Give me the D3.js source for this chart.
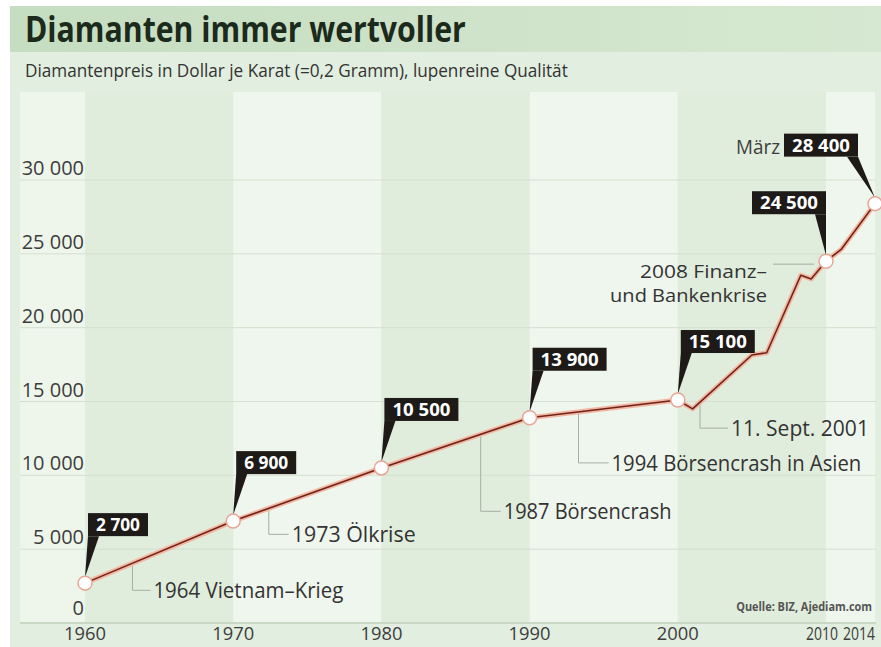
<!DOCTYPE html>
<html>
<head>
<meta charset="utf-8">
<script src="https://cdn.jsdelivr.net/npm/d3@7"></script>
<style>
  body { margin: 0; background: #fff; }
  svg { display: block; font-family: "Open Sans", "DejaVu Sans", sans-serif; }
</style>
</head>
<body>
<div id="chart"></div>
<script>
// price per carat
var years  = [1960, 1970, 1980, 1990, 2000, 2001, 2005, 2006, 2008.3, 2009, 2010, 2011.3, 2014.2];
var prices = [2700, 6900, 10500, 13900, 15100, 14500, 18150, 18300, 23550, 23300, 24500, 25300, 28400];

// labelled points
var calloutYears  = [1960, 1970, 1980, 1990, 2000, 2010, 2014.2];
var calloutValues = [2700, 6900, 10500, 13900, 15100, 24500, 28400];

var yTicks = [0, 5000, 10000, 15000, 20000, 25000, 30000];
var xTicks = [1960, 1970, 1980, 1990, 2000, 2010, 2014];
var decades = [1960, 1970, 1980, 1990, 2000, 2010];

var notes = [
  { text: '1964 Vietnam\u2013Krieg', year: 1963.2, drop: 27, gap: 18, w: 190 },
  { text: '1973 Ölkrise', year: 1972.4, drop: 26, gap: 20, w: 124 },
  { text: '1987 Börsencrash', year: 1986.7, drop: 77, gap: 20, w: 168 },
  { text: '1994 Börsencrash in Asien', year: 1993.3, drop: 51, gap: 30, w: 250 },
  { text: '11. Sept. 2001', year: 2001.5, drop: 26, gap: 28, w: 138 }
];

var width = 881, height = 647;
var fmt = d3.formatLocale({ decimal: ',', thousands: ' ', grouping: [3], currency: ['', '$'] }).format(',d');

var x = d3.scaleLinear().domain([1960, 2010, 2014.2]).range([85, 826, 875]);
var y = d3.scaleLinear().domain([0, 30000]).range([623, 180]);

var svg = d3.select('#chart').append('svg')
  .attr('width', width)
  .attr('height', height);

// squeeze a text horizontally to width w (the print uses a condensed face)
function squeeze(t, w) {
  var n = t.node().getComputedTextLength();
  var ax = +t.attr('x'), ay = +t.attr('y');
  t.attr('x', 0).attr('y', 0)
    .attr('transform', 'translate(' + ax + ',' + ay + ') scale(' + (w / n) + ',1)');
  return t;
}

// title band + subtitle band
var grad = svg.append('defs').append('linearGradient').attr('id', 'tb');
grad.append('stop').attr('offset', '0%').attr('stop-color', '#c5ddc0');
grad.append('stop').attr('offset', '100%').attr('stop-color', '#d6e8d1');
svg.append('rect').attr('x', 10).attr('y', 6).attr('width', 871).attr('height', 46).attr('fill', 'url(#tb)');
svg.append('rect').attr('x', 10).attr('y', 52).attr('width', 871).attr('height', 595).attr('fill', '#e2eedf');

// decade stripes
svg.append('rect').attr('x', 20).attr('y', 92).attr('width', x(1960) - 20).attr('height', y(0) - 92).attr('fill', '#eef6ec');
svg.selectAll('.stripe')
  .data(decades)
  .enter().append('rect')
  .attr('class', 'stripe')
  .attr('x', d => x(d))
  .attr('y', 92)
  .attr('width', d => (d === 2010 ? x(2014.2) : x(d + 10)) - x(d))
  .attr('height', y(0) - 92)
  .attr('fill', (d, i) => i % 2 === 0 ? '#e0ecdc' : '#eff6ed');

// grid
svg.selectAll('.grid')
  .data(yTicks)
  .enter().append('line')
  .attr('x1', 20).attr('x2', 876)
  .attr('y1', d => y(d)).attr('y2', d => y(d))
  .attr('stroke', d => d === 0 ? '#c9d8c5' : '#d3e0cf')
  .attr('stroke-width', d => d === 0 ? 2 : 1);

svg.selectAll('.ylab')
  .data(yTicks)
  .enter().append('text')
  .attr('x', 84)
  .attr('y', d => y(d) - (d === 0 ? 8 : 5))
  .attr('text-anchor', 'end')
  .attr('font-size', 20)
  .attr('fill', '#3d3d3d')
  .text(d => fmt(d));

// last two year labels sit closer together, as in the print
var xlabX = { 2010: 822, 2014: 859 };
svg.selectAll('.xlab')
  .data(xTicks)
  .enter().append('text')
  .attr('x', d => xlabX[d] || x(d))
  .attr('y', 640)
  .attr('text-anchor', 'middle')
  .attr('font-size', 18)
  .attr('fill', '#3d3d3d')
  .text(d => d)
  .each(function (d) { squeeze(d3.select(this), d >= 2010 ? 32 : 42); });

// titles
squeeze(svg.append('text')
  .attr('x', 25).attr('y', 42)
  .attr('font-size', 35).attr('font-weight', 700)
  .attr('fill', '#1c2a1c')
  .text('Diamanten immer wertvoller'), 441);

squeeze(svg.append('text')
  .attr('x', 25).attr('y', 77)
  .attr('font-size', 19)
  .attr('fill', '#333')
  .text('Diamantenpreis in Dollar je Karat (=0,2 Gramm), lupenreine Qualität'), 543);

squeeze(svg.append('text')
  .attr('x', 872).attr('y', 611)
  .attr('text-anchor', 'end')
  .attr('font-size', 12).attr('font-weight', 700)
  .attr('fill', '#555')
  .text('Quelle: BIZ, Ajediam.com'), 136);

// helper: y pixel of the line at a year
function lineY(yr) {
  var i = d3.bisectRight(years, yr);
  var t = (yr - years[i - 1]) / (years[i] - years[i - 1]);
  return y(prices[i - 1] + t * (prices[i] - prices[i - 1]));
}

// annotations with leader lines
notes.forEach(function (n) {
  var lx = x(n.year), ly = lineY(n.year), by = ly + n.drop;
  svg.append('path')
    .attr('d', 'M' + lx + ',' + ly + 'V' + by + 'H' + (lx + n.gap))
    .attr('fill', 'none').attr('stroke', '#a5aea3').attr('stroke-width', 1);
  squeeze(svg.append('text')
    .attr('x', lx + n.gap + 3).attr('y', by + 8)
    .attr('font-size', 22).attr('fill', '#333')
    .text(n.text), n.w);
});

// 2008 crisis note
svg.append('line')
  .attr('x1', 773).attr('x2', x(2009) + 3)
  .attr('y1', y(24300)).attr('y2', y(24300))
  .attr('stroke', '#a5aea3').attr('stroke-width', 1);
squeeze(svg.append('text')
  .attr('x', 767).attr('y', 278)
  .attr('text-anchor', 'end')
  .attr('font-size', 18).attr('fill', '#333')
  .text('2008 Finanz\u2013'), 127);
squeeze(svg.append('text')
  .attr('x', 767).attr('y', 302)
  .attr('text-anchor', 'end')
  .attr('font-size', 18).attr('fill', '#333')
  .text('und Bankenkrise'), 157);

// line
var line = d3.line().x((d, i) => x(years[i])).y(d => y(d));
svg.append('path')
  .attr('d', line(prices))
  .attr('fill', 'none').attr('stroke', '#f3b6a2').attr('stroke-width', 5)
  .attr('stroke-linejoin', 'round');
svg.append('path')
  .attr('d', line(prices))
  .attr('fill', 'none').attr('stroke', '#6e2418').attr('stroke-width', 1.6)
  .attr('stroke-linejoin', 'round');

// callouts
var callouts = calloutYears.map((d, i) => ({ year: d, value: calloutValues[i], right: d >= 2010 }));

var cg = svg.selectAll('.callout')
  .data(callouts)
  .enter().append('g')
  .attr('class', 'callout');

cg.each(function (d) {
  var g = d3.select(this);
  var px = x(d.year), py = y(d.value);
  var tw = d.value >= 10000 ? 58 : 44;
  var bw = tw + 16, bh = 23;
  var bx = d.right ? (d.year > 2012 ? px - 17 - bw : px - bw) : px + 3;
  var by = py - 47 - bh;
  var tipx = d.right ? bx + bw : bx;
  var wedge = d.right
    ? [[tipx - 11, by + bh], [tipx, by + bh], [px, py - 6]]
    : [[tipx, by + bh], [tipx + 11, by + bh], [px, py - 6]];
  g.append('path')
    .attr('d', d3.line()(wedge) + 'Z')
    .attr('fill', '#1e1a17');
  g.append('rect')
    .attr('x', bx).attr('y', by)
    .attr('width', bw).attr('height', bh)
    .attr('fill', '#1e1a17');
  squeeze(g.append('text')
    .attr('x', bx + bw / 2).attr('y', by + 18)
    .attr('font-size', 18).attr('font-weight', 700)
    .attr('fill', '#fff')
    .attr('text-anchor', 'middle')
    .text(fmt(d.value)), tw);
});

squeeze(svg.append('text')
  .attr('x', x(2014.2) - 17 - 74 - 4).attr('y', y(28400) - 50)
  .attr('text-anchor', 'end')
  .attr('font-size', 20).attr('fill', '#3d3d3d')
  .text('März'), 44);

// markers
svg.selectAll('.dot')
  .data(callouts)
  .enter().append('circle')
  .attr('cx', d => x(d.year))
  .attr('cy', d => y(d.value))
  .attr('r', 7)
  .attr('fill', '#fff')
  .attr('stroke', '#e7a797')
  .attr('stroke-width', 1.5);
</script>
</body>
</html>
